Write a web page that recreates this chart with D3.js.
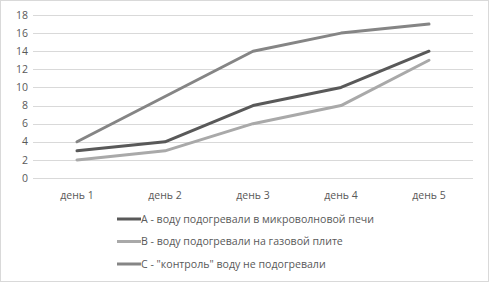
<!DOCTYPE html>
<html>
<head>
<meta charset="utf-8">
<script src="https://cdn.jsdelivr.net/npm/d3@7"></script>
<style>
  body { margin: 0; background: #fff; }
  svg { display: block; font-family: "Open Sans", sans-serif; }
</style>
</head>
<body>
<svg id="chart" width="489" height="283"></svg>
<script>
let days = ["день 1", "день 2", "день 3", "день 4", "день 5"];
let seriesNames = [
    "А - воду подогревали в микроволновой печи",
    "В - воду подогревали на газовой плите",
    "С - \"контроль\" воду не подогревали"
];
let valuesA = [3, 4, 8, 10, 14];
let valuesB = [2, 3, 6, 8, 13];
let valuesC = [4, 9, 14, 16, 17];
let yTicks = [0, 2, 4, 6, 8, 10, 12, 14, 16, 18];
let colors = ["#595959", "#a9a9a9", "#858585"];

let series = [valuesA, valuesB, valuesC];

let svg = d3.select("#chart");
let margin = {top: 15, left: 33, right: 16};
let plotW = 489 - margin.left - margin.right;
let plotH = 163;

// outer border
svg.append("rect")
    .attr("x", 0.5).attr("y", 0.5)
    .attr("width", 488).attr("height", 281)
    .attr("fill", "none").attr("stroke", "#d9d9d9");

let g = svg.append("g")
    .attr("transform", "translate(" + margin.left + "," + margin.top + ")");

let x = d3.scalePoint().domain(days).range([0, plotW]).padding(0.5);
let y = d3.scaleLinear().domain([0, 18]).range([plotH, 0]);

// grid
g.selectAll(".grid").data(yTicks).enter().append("line")
    .attr("x1", 0).attr("x2", plotW)
    .attr("y1", d => Math.round(y(d)) + 0.5).attr("y2", d => Math.round(y(d)) + 0.5)
    .attr("stroke", "#d9d9d9").attr("stroke-width", 1);

// y labels
g.selectAll(".ylab").data(yTicks).enter().append("text")
    .attr("x", -5).attr("y", d => y(d))
    .attr("dy", "0.35em")
    .attr("text-anchor", "end")
    .attr("font-size", 10.5).attr("fill", "#595959")
    .text(d => d);

// x labels
g.selectAll(".xlab").data(days).enter().append("text")
    .attr("x", d => x(d)).attr("y", plotH + 21)
    .attr("text-anchor", "middle")
    .attr("font-size", 10.5).attr("fill", "#595959")
    .text(d => d);

let line = d3.line()
    .x((d, i) => x(days[i]))
    .y(d => y(d));

g.selectAll(".series").data(series).enter().append("path")
    .attr("d", d => line(d))
    .attr("fill", "none")
    .attr("stroke", (d, i) => colors[i])
    .attr("stroke-width", 3)
    .attr("stroke-linejoin", "round")
    .attr("stroke-linecap", "round");

// legend
let legend = svg.append("g").attr("transform", "translate(117,219)");
let items = legend.selectAll("g").data(seriesNames).enter().append("g")
    .attr("transform", (d, i) => "translate(0," + (i * 22.5) + ")");
items.append("line")
    .attr("x1", 0).attr("x2", 24)
    .attr("stroke", (d, i) => colors[i])
    .attr("stroke-width", 3);
items.append("text")
    .attr("x", 24).attr("dy", "0.35em")
    .attr("font-size", 10.6).attr("fill", "#595959")
    .text(d => d);
</script>
</body>
</html>
